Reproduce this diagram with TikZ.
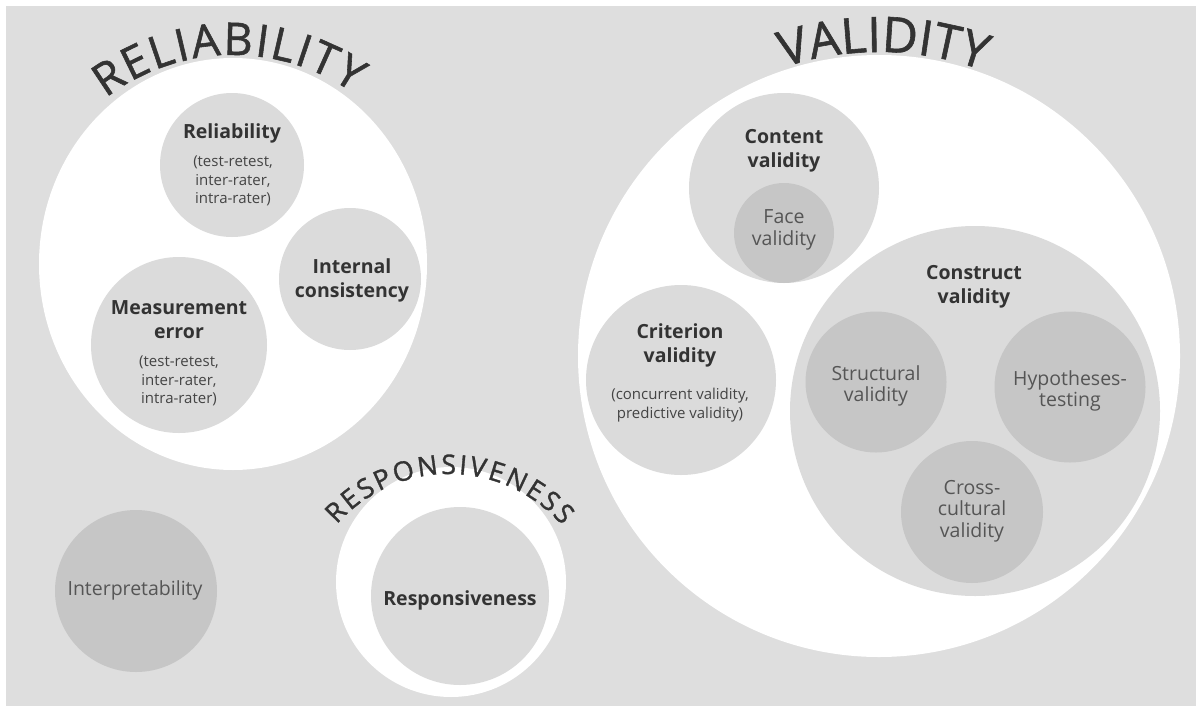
\documentclass[tikz,border=0pt]{standalone}
\usepackage{fontspec}
\setmainfont{Open Sans}
\newfontfamily\arcfamily[FakeBold=1.2]{Open Sans}
\usetikzlibrary{shapes.geometric,decorations.text}
\definecolor{bg}{HTML}{DEDEDE}
\definecolor{lvtwo}{HTML}{DBDBDB}
\definecolor{lvthree}{HTML}{C6C6C6}
\definecolor{ink}{HTML}{333333}
\definecolor{inksub}{HTML}{444444}
\definecolor{inksoft}{HTML}{555555}
\newcommand{\arcfontbig}{\arcfamily\fontsize{45}{45}\selectfont\color{ink}}
\newcommand{\arcfontval}{\arcfamily\fontsize{49}{49}\selectfont\color{ink}}
\newcommand{\arcfontresp}{\arcfamily\fontsize{27}{27}\selectfont\color{ink}}
\begin{document}
\begin{tikzpicture}[x=1pt,y=1pt,
  blob/.style={circle,inner sep=0pt,draw=none},
  whiteblob/.style={blob,fill=white},
  midblob/.style={blob,fill=lvtwo},
  darkblob/.style={blob,fill=lvthree},
  ttl/.style={font=\fontsize{19.5}{24}\selectfont\bfseries,text=ink,align=center,inner sep=0pt},
  subtxt/.style={font=\fontsize{15}{18.5}\selectfont,text=inksub,align=center,inner sep=0pt},
  leaftxt/.style={font=\fontsize{19.5}{21.5}\selectfont,text=inksoft,align=center,inner sep=0pt},
  arctext/.style={decorate,decoration={text along path,text align=fit to path,#1}}
]
\useasboundingbox (0,0) rectangle (1196,-707);
\fill[white] (0,0) rectangle (1196,-707);
\fill[bg] (6,-6) rectangle (1196,-706);

% ---------- Reliability ----------
\node[whiteblob,ellipse,minimum width=388pt,minimum height=412pt] (relout) at (233,-264) {};
\node[midblob,minimum size=144pt] (relsub) at (232,-165) {};
\node[midblob,minimum size=142pt] (intcons) at (350,-279) {};
\node[midblob,minimum size=176pt] (measerr) at (179,-345) {};
\coordinate (relarc) at (233,-264);
\path[arctext={text={|\arcfontbig|RELIABILITY}}]
  ([shift={(127.5:209)}]relarc) arc[start angle=127.5,end angle=55,radius=209];

\node[ttl] (reltitle) at (232,-133) {Reliability};
\node[subtxt] (relnote) at (233,-181) {(test-retest,\\inter-rater,\\intra-rater)};
\node[ttl] (inttitle) at (352,-280) {Internal\\consistency};
\node[ttl] (meastitle) at (179,-320) {Measurement\\error};
\node[subtxt] (measnote) at (179,-381) {(test-retest,\\inter-rater,\\intra-rater)};

% ---------- Interpretability ----------
\node[darkblob,minimum size=162pt] (interp) at (136,-591) {};
\node[leaftxt] (interptxt) at (135,-590) {Interpretability};

% ---------- Responsiveness ----------
\node[whiteblob,minimum size=230pt] (respout) at (451,-582) {};
\node[midblob,minimum size=178pt] (respin) at (460,-596) {};
\coordinate (resparc) at (449,-624);
\path[arctext={text={|\arcfontresp|RESPONSIVENESS}}]
  ([shift={(138.5:150)}]resparc) arc[start angle=138.5,end angle=41,radius=150];
\node[ttl] (resptxt) at (460,-600) {Responsiveness};

% ---------- Validity ----------
\node[whiteblob,minimum size=602pt] (valout) at (879,-356) {};
\coordinate (valarc) at (879,-356);
\path[arctext={text={|\arcfontval|VALIDITY}}]
  ([shift={(108.3:304)}]valarc) arc[start angle=108.3,end angle=71.5,radius=304];

\node[midblob,minimum size=190pt] (content) at (784,-188) {};
\node[darkblob,minimum size=100pt] (face) at (784,-233) {};
\node[midblob,minimum size=190pt] (criterion) at (681,-380) {};
\node[midblob,minimum size=370pt] (construct) at (975,-411) {};
\node[darkblob,minimum size=141pt] (structural) at (876,-382) {};
\node[darkblob,minimum size=151pt] (hypo) at (1070,-387) {};
\node[darkblob,minimum size=142pt] (cross) at (972,-512) {};

\node[ttl] (contenttxt) at (784,-151) {Content\\validity};
\node[leaftxt] (facetxt) at (784,-230) {Face\\validity};
\node[ttl] (criteriontxt) at (680,-345) {Criterion\\validity};
\node[subtxt] (criterionnote) at (680,-405) {(concurrent validity,\\predictive validity)};
\node[ttl] (constructtxt) at (974,-287) {Construct\\validity};
\node[leaftxt] (structuraltxt) at (876,-386) {Structural\\validity};
\node[leaftxt] (hypotxt) at (1070,-391) {Hypotheses-\\testing};
\node[leaftxt] (crosstxt) at (972,-511) {Cross-\\cultural\\validity};
\end{tikzpicture}
\end{document}
